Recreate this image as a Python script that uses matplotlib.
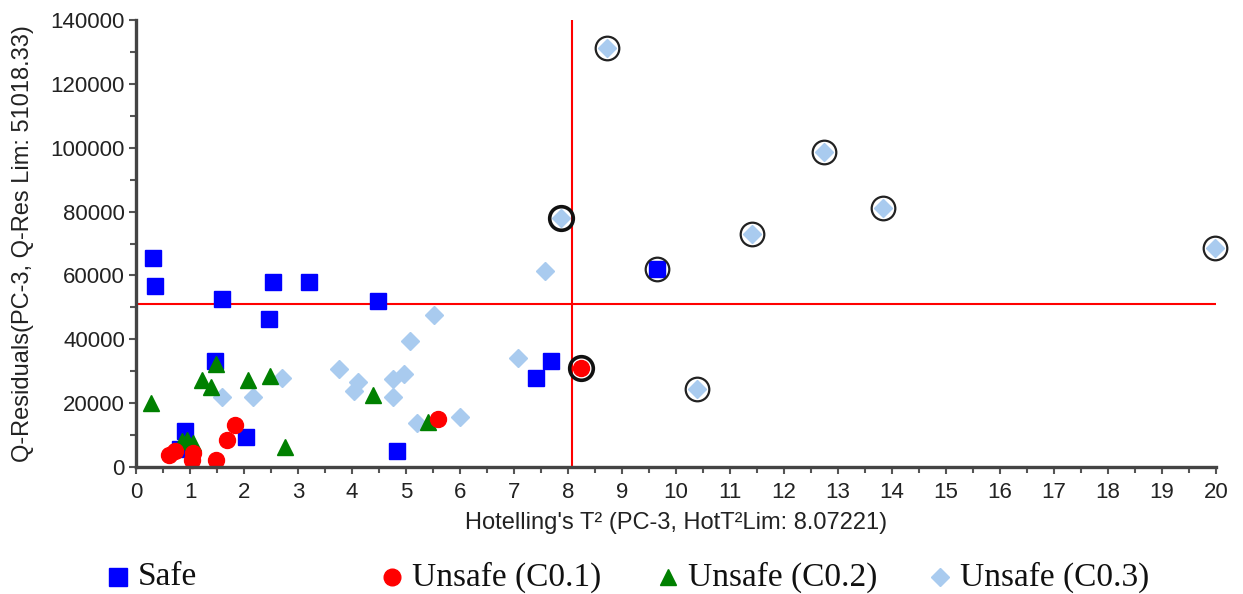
import matplotlib
matplotlib.use("Agg")
import matplotlib.pyplot as plt
from matplotlib.ticker import MultipleLocator

# ---- data ----
safe_x = [0.31, 0.35, 1.59, 2.54, 3.20, 2.46, 4.48, 1.46, 0.91, 0.82, 2.04, 4.83, 7.69, 7.41, 9.65]
safe_y = [65500, 56700, 52600, 57900, 57900, 46350, 52000, 33200, 11300, 5500, 9400, 5000, 33200, 27900, 62000]

c01_x = [0.61, 0.72, 1.06, 1.04, 1.48, 1.69, 1.83, 5.59, 8.24]
c01_y = [3800, 5000, 4400, 2200, 2200, 8500, 13100, 15000, 31000]

c02_x = [0.28, 0.85, 0.95, 1.05, 1.22, 1.39, 1.48, 2.07, 2.48, 2.76, 4.39, 5.41]
c02_y = [20000, 8000, 8500, 7500, 27200, 25000, 32300, 27200, 28500, 6300, 22500, 14100]

c03_x = [1.59, 2.17, 2.70, 3.76, 4.04, 4.11, 4.76, 4.76, 4.96, 5.07, 5.20, 5.52, 6.00, 7.07,
         7.57, 7.87, 8.72, 10.39, 11.41, 12.74, 13.83, 19.98]
c03_y = [21900, 21900, 27900, 30700, 23800, 26600, 21900, 27500, 29100, 39500, 13800, 47600, 15700,
         34100, 61400, 78000, 131200, 24400, 73000, 98650, 81100, 68600]

# highlighted (circled) samples
out_x = [8.72, 9.65, 10.39, 11.41, 12.74, 13.83, 19.98]
out_y = [131200, 62000, 24400, 73000, 98650, 81100, 68600]
out_bold_x = [7.87, 8.24]
out_bold_y = [78000, 31000]

hot_lim = 8.07221
q_lim = 51018.33

legend_labels = ["Safe", "Unsafe (C0.1)", "Unsafe (C0.2)", "Unsafe (C0.3)"]

# ---- figure ----
W, H = 1243, 594
fig = plt.figure(figsize=(W / 100, H / 100), dpi=100)
ax = fig.add_axes([136 / W, 1 - 467 / H, (1216 - 136) / W, (467 - 20) / H])

col_safe = "#0000FF"
col_c1 = "#FF0000"
col_c2 = "#008000"
col_c3 = "#A9CBEF"

ax.plot(c03_x, c03_y, ls="none", marker="D", ms=9.5, color=col_c3, mec=col_c3, zorder=3, clip_on=False)
ax.plot(safe_x, safe_y, ls="none", marker="s", ms=11, color=col_safe, mec=col_safe, zorder=4, clip_on=False)
ax.plot(c02_x, c02_y, ls="none", marker="^", ms=11.5, color=col_c2, mec=col_c2, zorder=5, clip_on=False)
ax.plot(c01_x, c01_y, ls="none", marker="o", ms=11.5, color=col_c1, mec=col_c1, zorder=6, clip_on=False)

ax.plot(out_x, out_y, ls="none", marker="o", ms=17, mfc="none", mec="#222222", mew=1.6, zorder=7, clip_on=False)
ax.plot(out_bold_x, out_bold_y, ls="none", marker="o", ms=17, mfc="none", mec="#111111", mew=2.6, zorder=7, clip_on=False)

ax.axvline(hot_lim, color="#FF0000", lw=1.5, zorder=2)
ax.axhline(q_lim, color="#FF0000", lw=1.5, zorder=2)

ax.set_xlim(0, 20)
ax.set_ylim(0, 140000)
ax.xaxis.set_major_locator(MultipleLocator(1))
ax.xaxis.set_minor_locator(MultipleLocator(0.5))
ax.yaxis.set_major_locator(MultipleLocator(20000))
ax.yaxis.set_minor_locator(MultipleLocator(10000))

for s in ["top", "right"]:
    ax.spines[s].set_visible(False)
for s in ["left", "bottom"]:
    ax.spines[s].set_color("#444444")
    ax.spines[s].set_linewidth(2.4)
    ax.spines[s].set_zorder(8)

tick_font = "Liberation Sans"
ax.tick_params(which="both", direction="out", colors="#555555", labelcolor="#222222")
ax.tick_params(which="major", length=5, width=1.5, labelsize=16, pad=3)
ax.tick_params(axis="x", which="major", pad=6)
ax.tick_params(which="minor", length=4, width=1.5)
for lab in ax.get_xticklabels() + ax.get_yticklabels():
    lab.set_fontfamily(tick_font)

ax.set_xlabel("Hotelling's T\u00b2 (PC-3, HotT\u00b2Lim: 8.07221)", fontsize=17,
              fontfamily=tick_font, color="#222222", labelpad=6)
ax.set_ylabel("Q-Residuals(PC-3, Q-Res Lim: 51018.33)", fontsize=17,
              fontfamily=tick_font, color="#222222", labelpad=12)

# ---- legend (manual, evenly spaced) ----
lax = fig.add_axes([0, 0, 1, 1], facecolor="none")
lax.set_xlim(0, W)
lax.set_ylim(H, 0)
lax.axis("off")
leg_x = [118, 392, 668, 940]
leg_y = 577
leg_markers = ["s", "o", "^", "D"]
leg_colors = [col_safe, col_c1, col_c2, col_c3]
leg_ms = [13, 12, 11, 9]
for x, m, c, ms, lab in zip(leg_x, leg_markers, leg_colors, leg_ms, legend_labels):
    lax.plot([x], [leg_y], marker=m, ms=ms, color=c, mec=c, ls="none")
    lax.text(x + 20, leg_y, lab, fontsize=24, fontfamily="Liberation Serif",
             va="center", ha="left", color="#111111")

fig.savefig("out.png", dpi=100)
